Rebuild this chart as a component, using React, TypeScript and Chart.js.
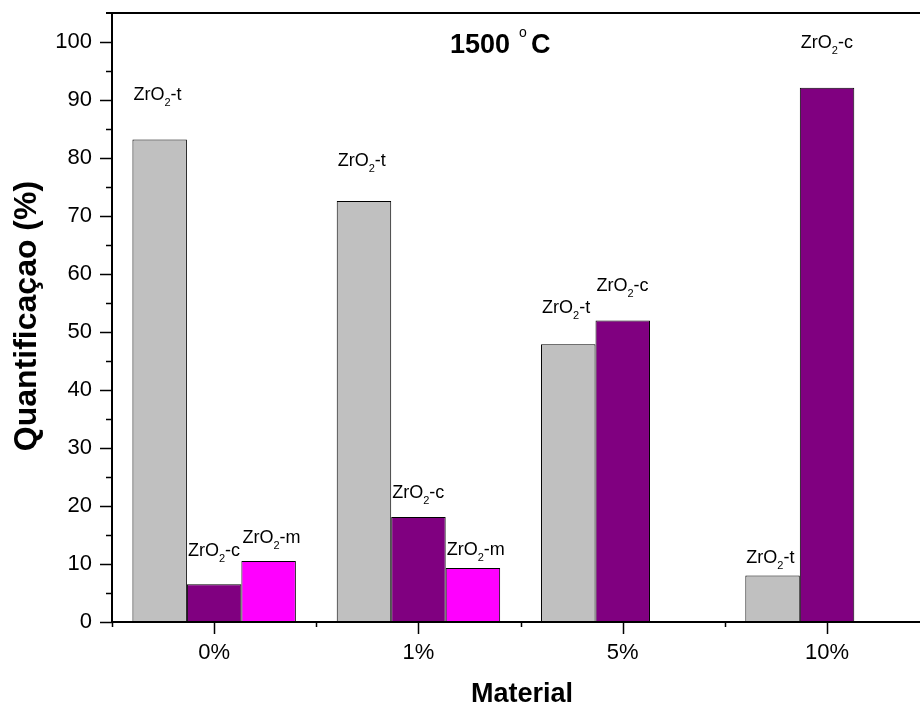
import React, { useEffect, useRef } from 'react';
import { Chart, registerables } from 'chart.js';

Chart.register(...registerables);

const categories = ['0%', '1%', '5%', '10%'];
const tetragonal = [83.2, 72.6, 47.9, 8.0];
const cubic = [6.5, 18.1, 52.0, 92.1];
const monoclinic: (number | null)[] = [10.5, 9.3, null, null];
const phaseSuffix = ['t', 'c', 'm'];
const yTickValues = [0, 10, 20, 30, 40, 50, 60, 70, 80, 90, 100];

// phase labels: category, series, and the value at the label's middle
const labelCats = [0, 0, 0, 1, 1, 1, 2, 2, 3, 3];
const labelSeries = [0, 1, 2, 0, 1, 2, 0, 1, 0, 1];
const labelValues = [91.0, 12.4, 14.7, 79.7, 22.4, 12.6, 54.3, 58.1, 11.2, 100.0];

const FONT = '"Liberation Sans", Arial, sans-serif';

const drawPlugin = {
  id: 'drawExtras',
  afterDraw(chart: any) {
    const ctx = chart.ctx;
    const { left, top, right, bottom } = chart.chartArea;
    const xs = chart.scales.x;
    const ys = chart.scales.y;
    ctx.save();
    ctx.strokeStyle = '#000';
    ctx.fillStyle = '#000';
    // axes
    ctx.lineWidth = 2;
    ctx.beginPath();
    ctx.moveTo(left - 6, top);
    ctx.lineTo(right, top);
    ctx.moveTo(left, top);
    ctx.lineTo(left, bottom + 1);
    ctx.moveTo(left - 1, bottom);
    ctx.lineTo(right, bottom);
    ctx.stroke();
    // y ticks
    ctx.lineWidth = 1.5;
    ctx.beginPath();
    for (let v = 0; v <= 100; v += 5) {
      const len = v % 10 === 0 ? 12 : 6;
      const py = Math.round(ys.getPixelForValue(v)) + 0.5;
      ctx.moveTo(left - len, py);
      ctx.lineTo(left, py);
    }
    // x ticks
    for (let i = 0; i < categories.length; i++) {
      const px = Math.round(xs.getPixelForValue(i)) + 0.5;
      ctx.moveTo(px, bottom);
      ctx.lineTo(px, bottom + 12);
    }
    for (let i = 0; i <= categories.length; i++) {
      const px = Math.round(xs.getPixelForValue(i - 0.5)) + 0.5;
      if (px > right) continue;
      ctx.moveTo(px, bottom);
      ctx.lineTo(px, bottom + 5);
    }
    ctx.stroke();

    // phase labels
    ctx.textBaseline = 'alphabetic';
    ctx.textAlign = 'left';
    for (let k = 0; k < labelCats.length; k++) {
      const el = chart.getDatasetMeta(labelSeries[k]).data[labelCats[k]];
      if (!el) continue;
      const props = el.getProps(['x', 'width'], true);
      let x = props.x - props.width / 2 + 1;
      const base = ys.getPixelForValue(labelValues[k]) + 6;
      ctx.font = `18px ${FONT}`;
      ctx.fillText('ZrO', x, base);
      x += ctx.measureText('ZrO').width;
      ctx.font = `11px ${FONT}`;
      ctx.fillText('2', x, base + 6);
      x += ctx.measureText('2').width;
      ctx.font = `18px ${FONT}`;
      ctx.fillText('-' + phaseSuffix[labelSeries[k]], x, base);
    }

    // chart title 1500 °C
    ctx.font = `bold 27px ${FONT}`;
    ctx.fillText('1500', 450, 53);
    ctx.font = `14px ${FONT}`;
    ctx.fillText('o', 519, 37);
    ctx.font = `bold 27px ${FONT}`;
    ctx.fillText('C', 531, 53);

    // axis titles
    ctx.font = `bold 27px ${FONT}`;
    ctx.textAlign = 'center';
    ctx.textBaseline = 'middle';
    ctx.fillText('Material', 522, 695);
    ctx.font = `bold 32px ${FONT}`;
    ctx.translate(27, 316);
    ctx.rotate(-Math.PI / 2);
    ctx.fillText('Quantificaçao (%)', 0, 0);
    ctx.restore();
  },
};

export default function App() {
  const ref = useRef<HTMLCanvasElement>(null);
  useEffect(() => {
    if (!ref.current) return;
    const mk = (vals: (number | null)[]) => vals.map((v, i) => ({ x: i, y: v }));
    const common = { borderColor: '#000', borderWidth: 1, barPercentage: 1, categoryPercentage: 0.8 };
    const chart = new Chart(ref.current, {
      type: 'bar',
      data: {
        datasets: [
          { label: 'ZrO2-t', data: mk(tetragonal), backgroundColor: '#C0C0C0', ...common },
          { label: 'ZrO2-c', data: mk(cubic), backgroundColor: '#800080', ...common },
          { label: 'ZrO2-m', data: mk(monoclinic), backgroundColor: '#FF00FF', ...common },
        ] as any,
      },
      options: {
        responsive: false,
        animation: false,
        layout: { padding: { left: 0, right: 0, top: 13, bottom: 0 } },
        plugins: { legend: { display: false }, tooltip: { enabled: false }, title: { display: false } },
        scales: {
          x: {
            type: 'linear',
            min: -0.5,
            max: 3.455,
            offset: false,
            grid: { display: false, drawTicks: false },
            border: { display: false },
            afterBuildTicks: (s: any) => {
              s.ticks = categories.map((_, i) => ({ value: i }));
            },
            ticks: {
              callback: (v: any) => categories[v] ?? '',
              font: { family: FONT, size: 22 },
              color: '#000',
              padding: 18,
              maxRotation: 0,
              autoSkip: false,
            },
            afterFit: (s: any) => {
              s.height = 86;
              s.paddingLeft = 0;
              s.paddingRight = 0;
            },
          },
          y: {
            min: 0,
            max: 105,
            grid: { display: false, drawTicks: false },
            border: { display: false },
            afterBuildTicks: (s: any) => {
              s.ticks = yTickValues.map((v) => ({ value: v }));
            },
            ticks: {
              font: { family: FONT, size: 22 },
              color: '#000',
              padding: 20,
            },
            afterFit: (s: any) => {
              s.width = 112;
              s.paddingTop = 0;
              s.paddingBottom = 0;
            },
          },
        } as any,
      },
      plugins: [drawPlugin],
    });
    return () => chart.destroy();
  }, []);
  return (
    <div style={{ position: 'fixed', left: 0, top: 0, width: 920, height: 708, background: '#fff' }}>
      <canvas ref={ref} width={920} height={708} style={{ display: 'block' }} />
    </div>
  );
}
